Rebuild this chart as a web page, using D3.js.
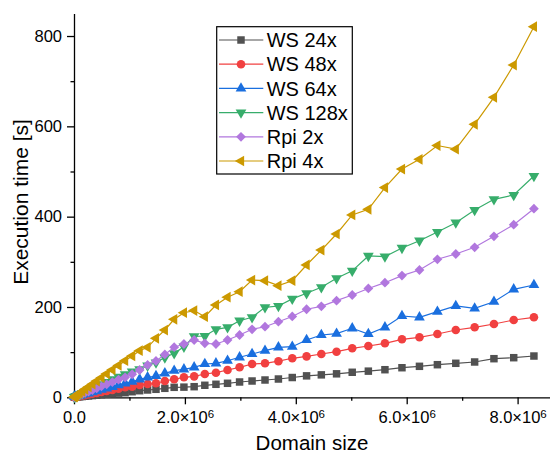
<!DOCTYPE html>
<html>
<head>
<meta charset="utf-8">
<script src="https://cdn.jsdelivr.net/npm/d3@7"></script>
<style>
  body { margin: 0; background: #fff; }
  svg { font-family: "Liberation Sans", Arial, sans-serif; }
</style>
</head>
<body>
<svg id="chart"></svg>
<script>
// domain sizes (x values)
const domainSize = [4096, 16384, 36864, 65536, 102400, 147456, 200704, 262144, 331776, 409600,
  495616, 589824, 692224, 802816, 921600, 1048576, 1183744, 1327104, 1478656, 1638400,
  1806336, 1982464, 2166784, 2359296, 2560000, 2768896, 2985984, 3211264, 3444736, 3686400,
  3936256, 4194304, 4460544, 4734976, 5017600, 5308416, 5607424, 5914624, 6230016, 6553600,
  6885376, 7225344, 7573504, 7929856, 8294400];

// execution times [s]
const ws24 = [0.05, 0.2, 0.4, 0.8, 1.2, 1.7, 2.3, 3.0, 3.8, 4.7,
  5.7, 6.8, 8.0, 9.2, 10.2, 12.4, 14.6, 16.2, 17.7, 19.9,
  22.1, 22.5, 23.5, 26.6, 28.8, 31.0, 33.9, 36.1, 38.3, 40.5,
  43.8, 47.5, 49.7, 52.0, 55.4, 57.9, 61.1, 65.5, 68.6, 72.2,
  75.3, 78.2, 85.5, 87.7, 91.4];
const ws48 = [0.1, 0.4, 0.9, 1.6, 2.4, 3.5, 4.8, 6.2, 7.9, 9.7,
  11.8, 14.0, 16.4, 19.0, 22.1, 23.5, 27.2, 29.5, 31.0, 36.1,
  39.9, 44.3, 46.4, 51.6, 54.5, 60.5, 66.4, 73.7, 75.3, 80.0,
  86.4, 90.7, 95.9, 101.0, 108.5, 113.6, 119.6, 128.4, 132.9, 140.2,
  149.0, 155.0, 162.3, 171.2, 177.1];
const ws64 = [2.0, 2.0, 1.5, 2.3, 3.5, 5.0, 6.8, 8.9, 11.2, 13.8,
  16.7, 19.9, 23.3, 27.0, 31.0, 34.5, 39.9, 44.3, 47.2, 53.1,
  58.9, 62.0, 66.4, 73.7, 75.3, 81.0, 88.6, 95.9, 103.2, 110.7,
  112.0, 126.9, 138.0, 141.0, 152.8, 140.2, 155.0, 180.0, 177.1, 189.6,
  202.2, 197.0, 211.7, 239.1, 248.7];
const ws128 = [0.3, 1.0, 2.2, 3.9, 6.0, 8.6, 11.7, 15.2, 19.2, 23.6,
  28.5, 33.8, 39.5, 45.5, 51.0, 56.7, 62.0, 70.0, 77.0, 88.0,
  97.4, 112.0, 135.0, 135.7, 150.5, 155.0, 169.6, 177.1, 199.3, 202.2,
  218.0, 230.3, 243.6, 263.5, 280.0, 313.0, 311.5, 330.7, 346.8, 366.0,
  386.7, 414.7, 438.4, 448.0, 490.0];
const rpi2 = [0.2, 0.8, 1.8, 3.2, 5.0, 7.2, 9.8, 12.8, 16.2, 20.0,
  24.2, 28.8, 33.8, 39.2, 44.3, 51.0, 60.5, 71.5, 80.4, 95.0,
  111.0, 118.0, 126.9, 119.6, 118.0, 126.9, 138.0, 150.6, 156.3, 167.4,
  179.0, 195.0, 201.5, 214.0, 226.5, 241.0, 253.8, 269.5, 281.9, 305.6,
  317.3, 332.2, 356.5, 382.2, 417.6];
const rpi4 = [0.4, 1.4, 3.2, 5.8, 9.0, 13.0, 17.7, 23.0, 29.0, 36.0,
  43.5, 52.0, 61.0, 70.5, 81.0, 91.5, 103.2, 110.7, 130.6, 149.0,
  172.7, 187.3, 192.0, 178.5, 204.4, 221.7, 233.8, 259.7, 258.2, 247.2,
  258.2, 293.0, 326.0, 361.6, 403.7, 416.2, 464.5, 505.5, 527.0, 557.5,
  549.5, 604.5, 664.3, 735.8, 820.6];

const seriesNames = ["WS 24x", "WS 48x", "WS 64x", "WS 128x", "Rpi 2x", "Rpi 4x"];
const seriesValues = [ws24, ws48, ws64, ws128, rpi2, rpi4];
const seriesColors = ["#515151", "#F14040", "#1A6FDF", "#37AD6B", "#B177DE", "#CC9900"];

const xTicks = [0, 2e6, 4e6, 6e6, 8e6];
const xMinorTicks = [1e6, 3e6, 5e6, 7e6];
const yTicks = [0, 200, 400, 600, 800];
const yMinorTicks = [100, 300, 500, 700];

const width = 550, height = 455;
const margin = {top: 13, right: 0, bottom: 58, left: 74};

const svg = d3.select("#chart")
  .attr("width", width)
  .attr("height", height);

const x = d3.scaleLinear()
  .domain([0, 8.6e6])
  .range([margin.left, margin.left + 8.6 * 55.45]);
const y = d3.scaleLinear()
  .domain([0, 850])
  .range([397.3, 397.3 - 850 * 0.4516]);

// marker shapes: [symbol type, size, rotation]
const markers = [
  [d3.symbolSquare, 56, 0],
  [d3.symbolCircle, 58, 0],
  [d3.symbolTriangle, 50, 0],
  [d3.symbolTriangle, 50, 180],
  [d3.symbolSquare, 48, 45],
  [d3.symbolTriangle, 50, -90]
];

function drawMarker(g, i, cx, cy) {
  const m = markers[i];
  g.append("path")
    .attr("d", d3.symbol().type(m[0]).size(m[1])())
    .attr("transform", "translate(" + cx + "," + cy + ") rotate(" + m[2] + ")")
    .attr("fill", seriesColors[i]);
}

// axes
const xAxis = svg.append("g")
  .attr("transform", "translate(0," + y(0) + ")")
  .call(d3.axisBottom(x).tickValues(xTicks).tickSize(7).tickSizeOuter(0).tickPadding(7)
    .tickFormat(d => d === 0 ? "0.0" : (d / 1e6).toFixed(1) + "×10"));
svg.append("g")
  .attr("transform", "translate(0," + y(0) + ")")
  .call(d3.axisBottom(x).tickValues(xMinorTicks).tickSize(3.5).tickSizeOuter(0).tickFormat(""))
  .call(g => g.select(".domain").remove());

xAxis.selectAll("text")
  .attr("font-size", "16.5px")
  .attr("font-family", "Liberation Sans, Arial, sans-serif")
  .attr("fill", "#000")
  .each(function(d) {
    if (d !== 0) {
      d3.select(this).append("tspan")
        .attr("dy", "-0.45em")
        .attr("font-size", "11.5px")
        .text("6");
    }
  });

const yAxis = svg.append("g")
  .attr("transform", "translate(" + x(0) + ",0)")
  .call(d3.axisLeft(y).tickValues(yTicks).tickSize(7).tickSizeOuter(0).tickPadding(5));
svg.append("g")
  .attr("transform", "translate(" + x(0) + ",0)")
  .call(d3.axisLeft(y).tickValues(yMinorTicks).tickSize(3.5).tickSizeOuter(0).tickFormat(""))
  .call(g => g.select(".domain").remove());

yAxis.selectAll("text")
  .attr("font-size", "16.5px")
  .attr("font-family", "Liberation Sans, Arial, sans-serif")
  .attr("fill", "#000");

svg.selectAll(".domain, .tick line")
  .attr("stroke", "#000")
  .attr("stroke-width", 1.3);

// axis titles
svg.append("text")
  .attr("x", 312)
  .attr("y", 450)
  .attr("text-anchor", "middle")
  .attr("font-size", "20.5px")
  .text("Domain size");
svg.append("text")
  .attr("transform", "translate(27.5,202) rotate(-90)")
  .attr("text-anchor", "middle")
  .attr("font-size", "21px")
  .text("Execution time [s]");

// series
const line = d3.line()
  .x((d, j) => x(domainSize[j]))
  .y(d => y(d));

seriesValues.forEach(function(vals, i) {
  const g = svg.append("g").attr("class", "series");
  g.append("path")
    .datum(vals)
    .attr("d", line)
    .attr("fill", "none")
    .attr("stroke", seriesColors[i])
    .attr("stroke-width", 1.2);
  vals.forEach(function(v, j) {
    drawMarker(g, i, x(domainSize[j]), y(v));
  });
});

// legend
const legend = svg.append("g");
legend.append("rect")
  .attr("x", 216.7)
  .attr("y", 26.7)
  .attr("width", 135.6)
  .attr("height", 147.3)
  .attr("fill", "#fff")
  .attr("stroke", "#000")
  .attr("stroke-width", 1.2);

seriesNames.forEach(function(name, i) {
  const ly = 40 + i * 24.2;
  legend.append("line")
    .attr("x1", 219).attr("x2", 263.3)
    .attr("y1", ly).attr("y2", ly)
    .attr("stroke", seriesColors[i])
    .attr("stroke-width", 1.2);
  drawMarker(legend, i, 241, ly);
  legend.append("text")
    .attr("x", 266.7)
    .attr("y", ly)
    .attr("dy", "0.36em")
    .attr("font-size", "20px")
    .text(name);
});
</script>
</body>
</html>
